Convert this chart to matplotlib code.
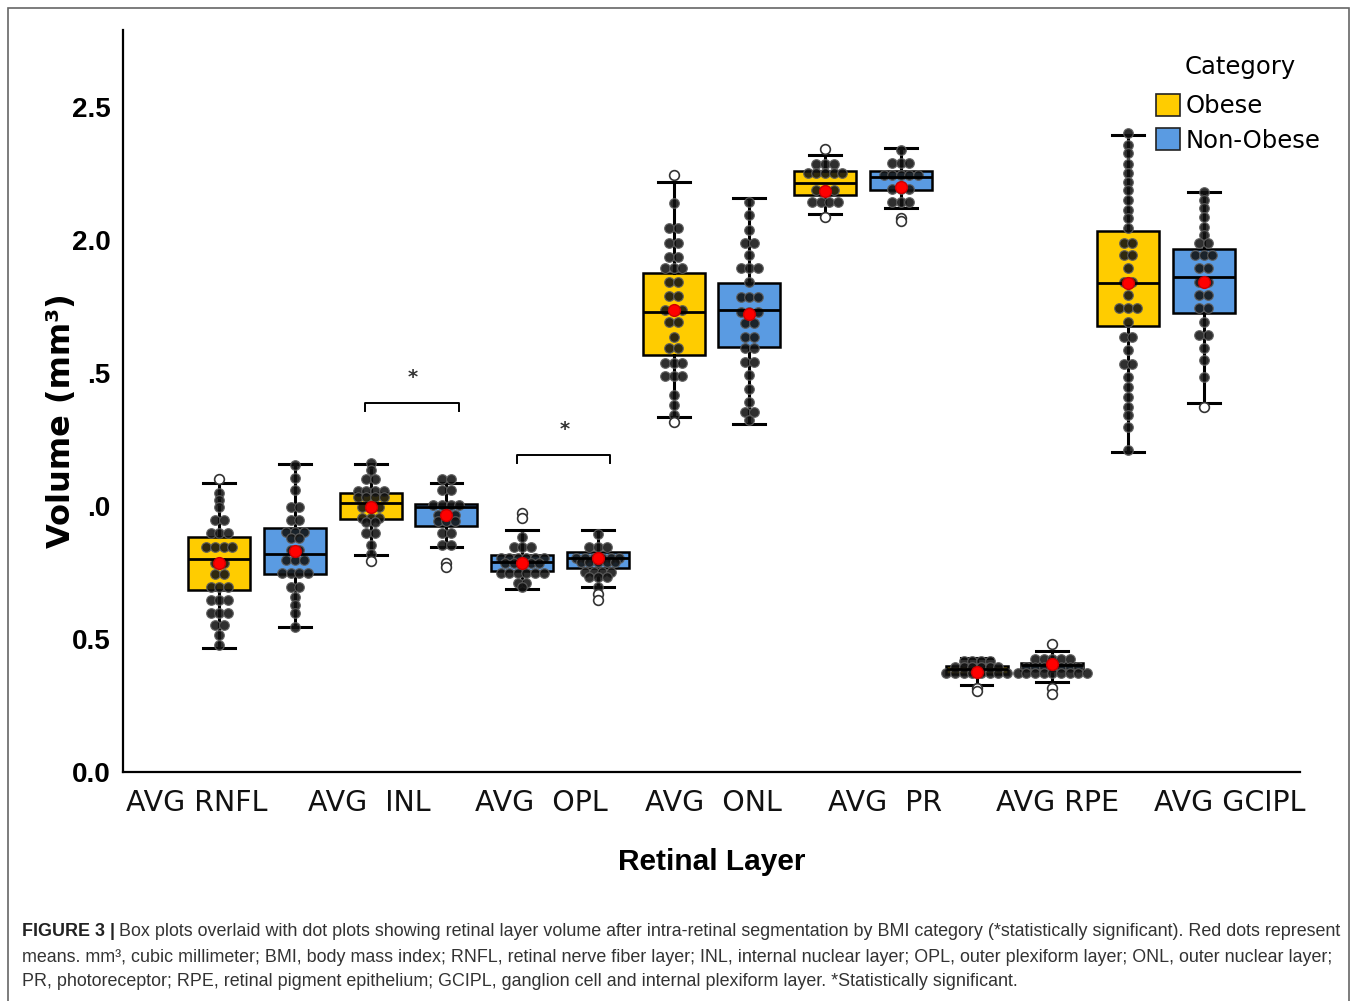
'''
   Box plots + dot plots: volume das camadas da retina por categoria de IMC
'''
import matplotlib.pyplot as plt
from matplotlib.patches import Patch, Rectangle

# dimensões da figura (pixels)
W, H = 1357, 1001

# categorias
categorias = ["AVG RNFL", "AVG  INL", "AVG  OPL", "AVG  ONL", "AVG  PR", "AVG RPE", "AVG GCIPL"]
grupos = ["Obese", "Non-Obese"]

# Obese
ob_q1 = [0.684, 0.950, 0.757, 1.568, 2.169, 0.368, 1.678]
ob_med = [0.801, 1.012, 0.788, 1.728, 2.213, 0.387, 1.837]
ob_q3 = [0.882, 1.050, 0.816, 1.877, 2.259, 0.398, 2.034]
ob_lo = [0.465, 0.816, 0.687, 1.336, 2.100, 0.327, 1.203]
ob_hi = [1.088, 1.157, 0.910, 2.218, 2.320, 0.429, 2.397]
ob_mean = [0.785, 0.997, 0.787, 1.736, 2.185, 0.377, 1.837]
ob_fliers = [[1.100], [0.793], [0.973, 0.954], [2.244, 1.317], [2.341, 2.088], [0.315, 0.305], []]

# Non-Obese
non_q1 = [0.744, 0.926, 0.768, 1.599, 2.188, 0.383, 1.727]
non_med = [0.820, 0.995, 0.803, 1.739, 2.237, 0.401, 1.862]
non_q3 = [0.916, 1.008, 0.827, 1.837, 2.259, 0.411, 1.966]
non_lo = [0.546, 0.847, 0.697, 1.307, 2.119, 0.337, 1.388]
non_hi = [1.157, 1.088, 0.910, 2.157, 2.346, 0.455, 2.182]
non_mean = [0.832, 0.966, 0.803, 1.724, 2.198, 0.406, 1.841]
non_fliers = [[], [0.784, 0.772], [0.668, 0.647], [], [2.082, 2.070], [0.481, 0.315, 0.293], [1.373]]

# dot plots: (valor, quantidade)
ob_dots = [
    [(1.050, 1), (1.023, 1), (0.995, 1), (0.947, 2), (0.900, 3), (0.847, 4), (0.785, 2),
     (0.744, 2), (0.697, 3), (0.647, 3), (0.597, 3), (0.553, 2), (0.515, 1), (0.477, 1)],
    [(1.160, 1), (1.135, 1), (1.102, 2), (1.056, 4), (1.035, 4), (0.997, 3), (0.954, 3),
     (0.941, 2), (0.897, 2), (0.853, 1), (0.818, 1)],
    [(0.885, 1), (0.847, 3), (0.803, 6), (0.785, 5), (0.747, 6), (0.709, 2), (0.697, 1)],
    [(2.138, 1), (2.044, 2), (1.988, 2), (1.937, 2), (1.894, 3), (1.841, 2), (1.791, 2),
     (1.737, 3), (1.693, 2), (1.636, 1), (1.593, 2), (1.538, 3), (1.488, 3), (1.419, 1),
     (1.381, 1), (1.342, 1)],
    [(2.288, 3), (2.251, 5), (2.188, 3), (2.144, 4)],
    [(0.418, 4), (0.396, 6), (0.371, 8)],
    [(2.403, 1), (2.357, 1), (2.326, 1), (2.288, 1), (2.251, 1), (2.219, 1), (2.188, 1),
     (2.150, 1), (2.113, 1), (2.082, 1), (2.044, 1), (1.988, 2), (1.944, 2), (1.894, 1),
     (1.843, 2), (1.793, 1), (1.743, 3), (1.693, 1), (1.636, 2), (1.586, 1), (1.536, 2),
     (1.486, 1), (1.449, 1), (1.411, 1), (1.373, 1), (1.342, 1), (1.298, 1), (1.211, 1)],
]
non_dots = [
    [(1.154, 1), (1.104, 1), (1.060, 1), (0.997, 2), (0.947, 2), (0.903, 3), (0.879, 2),
     (0.835, 2), (0.797, 3), (0.747, 4), (0.697, 2), (0.659, 1), (0.628, 1), (0.597, 1),
     (0.546, 1)],
    [(1.102, 2), (1.060, 2), (1.004, 4), (0.966, 3), (0.944, 3), (0.897, 2), (0.853, 2)],
    [(0.894, 1), (0.847, 3), (0.806, 6), (0.791, 5), (0.753, 4), (0.734, 3), (0.697, 1)],
    [(2.142, 1), (2.094, 1), (2.038, 1), (1.988, 2), (1.944, 1), (1.894, 3), (1.843, 1),
     (1.787, 3), (1.730, 3), (1.687, 2), (1.636, 2), (1.593, 2), (1.542, 2), (1.492, 1),
     (1.442, 1), (1.392, 1), (1.354, 2), (1.323, 1)],
    [(2.338, 1), (2.291, 3), (2.244, 5), (2.194, 3), (2.144, 3)],
    [(0.424, 5), (0.396, 7), (0.371, 9)],
    [(2.182, 1), (2.150, 1), (2.119, 1), (2.088, 1), (2.050, 1), (2.019, 1), (1.988, 2),
     (1.944, 3), (1.894, 2), (1.843, 2), (1.793, 2), (1.743, 2), (1.693, 1), (1.643, 2),
     (1.593, 1), (1.549, 1), (1.486, 1)],
]

# comparações significativas (índice da camada, altura do colchete)
sig_camadas = [1, 2]
sig_altura = [1.387, 1.192]

# rótulos do eixo y (o "1" some no original)
yticks = [0.0, 0.5, 1.0, 1.5, 2.0, 2.5]
ytick_labels = ["0.0", "0.5", ".0", ".5", "2.0", "2.5"]

AMARELO = "#FFCC00"
AZUL = "#5A9BE2"
ob_cores = [AMARELO, AMARELO, AZUL, AMARELO, AMARELO, AMARELO, AMARELO]

ARIAL = ["Liberation Sans", "DejaVu Sans"]

#------------------------------------------------------
def stats(q1, med, q3, lo, hi, mean, fliers):
    lista = []
    for i in range(len(q1)):
        lista.append(dict(q1=q1[i], med=med[i], q3=q3[i], whislo=lo[i],
                          whishi=hi[i], mean=mean[i], fliers=fliers[i]))
    return lista

#------------------------------------------------------
def dots(ax, x0, linhas):
    passo = 0.057
    xs, ys = [], []
    for v, n in linhas:
        for k in range(n):
            xs.append(x0 + (k - (n - 1) / 2) * passo)
            ys.append(v)
    ax.scatter(xs, ys, s=48, facecolor="#121212", edgecolor="#5e5e5e",
               linewidth=0.9, alpha=0.88, zorder=3)

#------------------------------------------------------
def boxes(ax, pos, st, cores):
    bp = ax.bxp(st, positions=pos, widths=0.41, capwidths=0.21,
                showmeans=True, patch_artist=True, manage_ticks=False,
                boxprops=dict(linewidth=1.8, edgecolor="black"),
                whiskerprops=dict(linewidth=2.2, color="black"),
                capprops=dict(linewidth=2.2, color="black"),
                medianprops=dict(linewidth=2.0, color="black"),
                meanprops=dict(marker="o", markerfacecolor="red",
                               markeredgecolor="#cc0000", markersize=8.5),
                flierprops=dict(marker="o", markerfacecolor="white",
                                markeredgecolor="#333333", markersize=7,
                                markeredgewidth=1.2))
    for b, c in zip(bp["boxes"], cores):
        b.set_facecolor(c)
        b.set_zorder(2)
    for m in bp["medians"]:
        m.set_zorder(3.5)
    for m in bp["means"]:
        m.set_zorder(5)
    for f in bp["fliers"]:
        f.set_zorder(4)

#------------------------------------------------------
def main():
    fig = plt.figure(figsize=(W / 100, H / 100), dpi=100)
    ax = fig.add_axes([123 / W, 1 - 772 / H, 1177 / W, 742 / H])

    n = len(categorias)
    pos_ob = [i - 0.25 for i in range(n)]
    pos_non = [i + 0.25 for i in range(n)]

    boxes(ax, pos_ob, stats(ob_q1, ob_med, ob_q3, ob_lo, ob_hi, ob_mean, ob_fliers), ob_cores)
    boxes(ax, pos_non, stats(non_q1, non_med, non_q3, non_lo, non_hi, non_mean, non_fliers),
          [AZUL] * n)

    for i in range(n):
        dots(ax, pos_ob[i], ob_dots[i])
        dots(ax, pos_non[i], non_dots[i])

    # colchetes de significância
    for i, topo in zip(sig_camadas, sig_altura):
        x0, x1 = i - 0.285, i + 0.33
        ax.plot([x0, x0, x1, x1], [topo - 0.03, topo, topo, topo - 0.03],
                color="black", lw=1.4, zorder=3)
        ax.text(i + 0.03, topo + 0.095, "*", ha="center", va="center",
                fontsize=14, fontweight="bold", color="#333333")

    ax.set_xlim(-0.885, n - 1 + 0.885)
    ax.set_ylim(0, 2.79)
    ax.spines["top"].set_visible(False)
    ax.spines["right"].set_visible(False)
    for s in ["left", "bottom"]:
        ax.spines[s].set_linewidth(1.6)
    ax.set_xticks([])
    ax.set_yticks(yticks)
    ax.set_yticklabels(ytick_labels, family=ARIAL, fontweight="bold", fontsize=20)
    ax.tick_params(axis="y", length=0, pad=9)

    # rótulos das camadas
    for k, nome in enumerate(categorias):
        xf = 0.063 + k * (0.940 - 0.063) / (n - 1)
        ax.text(xf, -0.042, nome, transform=ax.transAxes, ha="center", va="center",
                fontsize=20.5, color="#111111")

    ax.text(0.5, -0.121, "Retinal Layer", transform=ax.transAxes, ha="center",
            va="center", family=ARIAL, fontweight="bold", fontsize=21.5)
    ax.text(-0.052, 0.474, "Volume (mm³)", transform=ax.transAxes, ha="center",
            va="center", rotation=90, fontweight="bold", fontsize=23)

    # legenda
    handles = [Patch(facecolor=AMARELO, edgecolor="#222222", lw=1.2),
               Patch(facecolor=AZUL, edgecolor="#222222", lw=1.2)]
    fig.legend(handles, grupos, loc="upper left",
               bbox_to_anchor=(1156 / W, 1 - 94 / H), frameon=False,
               fontsize=17.5, handlelength=1.0, handleheight=1.0,
               handletextpad=0.2, labelspacing=0.42,
               borderpad=0, borderaxespad=0)
    fig.text(1185 / W, 1 - 67 / H, "Category", fontsize=17.5, va="center", ha="left")

    # moldura da figura
    fig.patches.append(Rectangle((8 / W, -0.01), 1341 / W, 1 - 8 / H + 0.01,
                                 transform=fig.transFigure, fill=False,
                                 edgecolor="#666666", lw=1.2))

    # legenda da figura (texto)
    fig.canvas.draw()
    r = fig.canvas.get_renderer()
    linhas = [
        "Box plots overlaid with dot plots showing retinal layer volume after intra-retinal "
        "segmentation by BMI category (*statistically significant). Red dots represent",
        "means. mm³, cubic millimeter; BMI, body mass index; RNFL, retinal nerve fiber layer; "
        "INL, internal nuclear layer; OPL, outer plexiform layer; ONL, outer nuclear layer;",
        "PR, photoreceptor; RPE, retinal pigment epithelium; GCIPL, ganglion cell and internal "
        "plexiform layer. *Statistically significant.",
    ]
    ys = [932, 957, 982]
    cap = dict(family="Liberation Sans", fontsize=12.9, va="center", color="#333333")
    t = fig.text(22 / W, 1 - ys[0] / H, "FIGURE 3 |", fontweight="bold",
                 **dict(cap, color="#222222"))
    bb = t.get_window_extent(r)
    fig.text((bb.x1 + 4) / W, 1 - ys[0] / H, linhas[0], **cap)
    for y, s in zip(ys[1:], linhas[1:]):
        fig.text(22 / W, 1 - y / H, s, **cap)

    fig.savefig("out.png", dpi=100)

#------------------------------------------------------
if __name__ == "__main__":
    main()
